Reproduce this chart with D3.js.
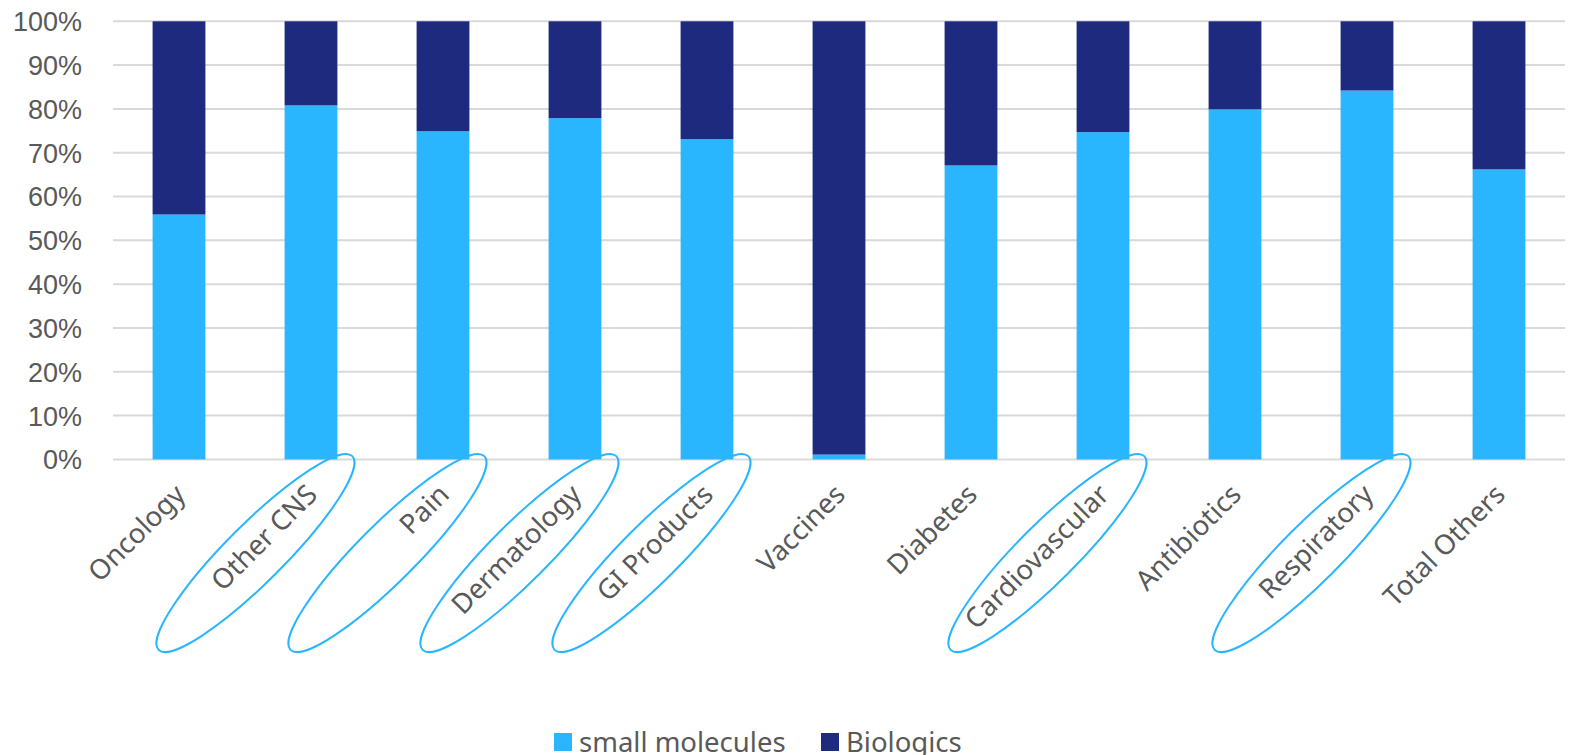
<!DOCTYPE html>
<meta charset="utf-8">
<style>
  body { margin: 0; background: #fff; font-family: "Noto Sans", sans-serif; }
  .axis text { fill: #595959; font-size: 27px; }
  .xlab text { font-size: 27.5px; }
  .grid line { stroke: #d9d9d9; stroke-width: 2; }
  .ring { fill: none; stroke: #29b6fe; stroke-width: 2; }
</style>
<body>
<div id="chart"></div>
<script src="https://d3js.org/d3.v7.min.js"></script>
<script>
  const categories = ["Oncology", "Other CNS", "Pain", "Dermatology", "GI Products", "Vaccines",
    "Diabetes", "Cardiovascular", "Antibiotics", "Respiratory", "Total Others"];
  const smallMolecules = [0.559, 0.808, 0.749, 0.779, 0.731, 0.011, 0.671, 0.747, 0.799, 0.842, 0.662];
  const biologics = smallMolecules.map(v => 1 - v);
  const circled = ["Other CNS", "Pain", "Dermatology", "GI Products", "Cardiovascular", "Respiratory"];
  const yTicks = d3.range(0, 1.01, 0.1);
  const seriesNames = ["small molecules", "Biologics"];
  const colors = ["#29b6fe", "#1d2a7d"];

  const width = 1569, height = 755;
  const margin = { top: 21.3, right: 4, bottom: 295.6, left: 113 };

  const svg = d3.select("#chart").append("svg")
    .attr("width", width)
    .attr("height", height);

  const x = d3.scaleBand()
    .domain(categories)
    .range([margin.left, width - margin.right])
    .paddingInner(0.6)
    .paddingOuter(0.3);

  const y = d3.scaleLinear()
    .domain([0, 1])
    .range([height - margin.bottom, margin.top]);

  // gridlines
  svg.append("g")
    .attr("class", "grid")
    .selectAll("line")
    .data(yTicks)
    .join("line")
    .attr("x1", margin.left)
    .attr("x2", width - margin.right)
    .attr("y1", d => y(d))
    .attr("y2", d => y(d));

  const rows = categories.map((c, i) => ({ cat: c, small: smallMolecules[i], bio: biologics[i] }));
  const stacked = d3.stack().keys(["small", "bio"])(rows);

  svg.append("g")
    .selectAll("g")
    .data(stacked)
    .join("g")
    .attr("fill", (d, i) => colors[i])
    .selectAll("rect")
    .data(d => d)
    .join("rect")
    .attr("x", d => x(d.data.cat))
    .attr("width", x.bandwidth())
    .attr("y", d => y(d[1]))
    .attr("height", d => y(d[0]) - y(d[1]));

  // y axis
  const yAxis = d3.axisLeft(y)
    .tickValues(yTicks)
    .tickFormat(d3.format(".0%"))
    .tickSize(0)
    .tickPadding(31);

  svg.append("g")
    .attr("class", "axis")
    .attr("transform", `translate(${margin.left},0)`)
    .call(yAxis)
    .call(g => g.select(".domain").remove())
    .selectAll("text")
    .attr("dy", "0.35em");

  // x labels, rotated
  const xLabels = svg.append("g").attr("class", "axis xlab");
  const labelY = height - margin.bottom + 30;

  const lab = xLabels.selectAll("g")
    .data(categories)
    .join("g")
    .attr("transform", d => `translate(${x(d) + x.bandwidth() / 2 + 1},${labelY}) rotate(-45)`);

  lab.append("text")
    .attr("text-anchor", "end")
    .attr("dy", "0.35em")
    .text(d => d);

  // hand-drawn rings around some labels
  lab.filter(d => circled.includes(d))
    .append("ellipse")
    .attr("class", "ring")
    .attr("cx", -85)
    .attr("cy", 5)
    .attr("rx", 137)
    .attr("ry", 29);

  // legend
  const legend = svg.append("g")
    .attr("transform", `translate(554,733)`);

  const legendX = [0, 267];
  const item = legend.selectAll("g")
    .data(seriesNames)
    .join("g")
    .attr("transform", (d, i) => `translate(${legendX[i]},0)`);

  item.append("rect")
    .attr("width", 18)
    .attr("height", 18)
    .attr("fill", (d, i) => colors[i]);

  item.append("text")
    .attr("x", 25)
    .attr("y", 9)
    .attr("dy", "0.35em")
    .attr("fill", "#595959")
    .style("font-size", "27.5px")
    .text(d => d);
</script>
</body>
